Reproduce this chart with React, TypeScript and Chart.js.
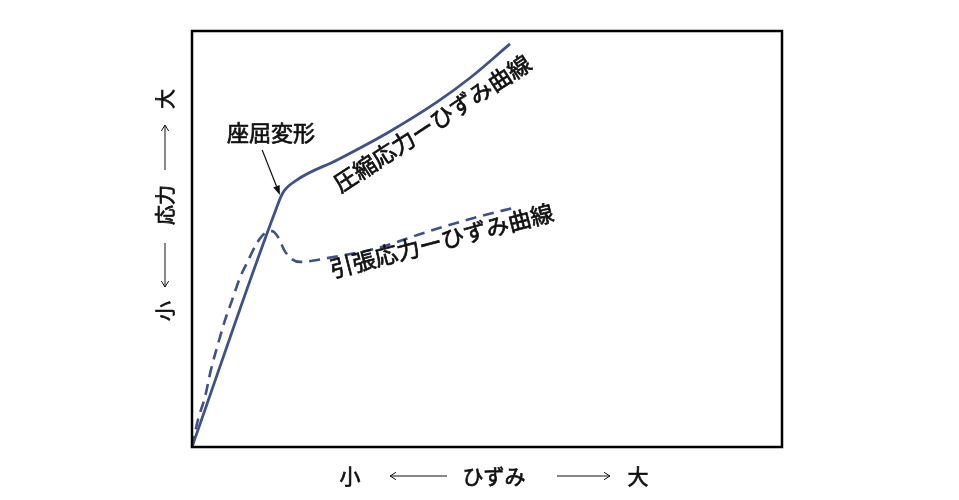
import { useEffect, useRef } from 'react';
import { Chart, ChartConfiguration, registerables } from 'chart.js';

Chart.register(...registerables);

// Compressive stress-strain curve (solid)
const compStrain = [0, 14.2, 15.4, 17.8, 24.6, 33.1, 41.5, 47.1, 53.9];
const compStress = [0, 57.0, 61.1, 64.2, 69.0, 75.5, 82.9, 88.7, 96.9];

// Tensile stress-strain curve (dashed)
const tensStrain = [0, 1.0, 2.2, 3.2, 4.7, 5.6, 6.8, 8.1, 9.3, 11.0, 12.2, 13.6, 14.7, 15.6, 16.9, 18.3, 22.9, 31.4, 39.8, 47.6, 55.1];
const tensStress = [0, 6.5, 12.0, 18.5, 26.2, 30.5, 35.3, 40.6, 44.2, 49.0, 51.2, 51.9, 50.2, 47.4, 45.2, 44.5, 45.4, 47.8, 51.7, 55.0, 57.7];

const compLabel = '圧縮応力ーひずみ曲線';
const tensLabel = '引張応力ーひずみ曲線';
const bucklingLabel = '座屈変形';
const xAxisWords = ['小', 'ひずみ', '大'];
const yAxisWords = ['小', '応力', '大'];

const LINE_COLOR = '#3f5186';
const TEXT_COLOR = '#111';
const FONT = '"Noto Sans CJK JP", "Noto Sans", sans-serif';

const toPoints = (xs: number[], ys: number[]) => xs.map((x, i) => ({ x, y: ys[i] }));

// slightly heavier text, closer to the original's weight
const heavyText = (ctx: CanvasRenderingContext2D, t: string, x: number, y: number) => {
  ctx.fillText(t, x, y);
  ctx.lineWidth = 0.7;
  ctx.strokeStyle = TEXT_COLOR;
  ctx.strokeText(t, x, y);
};

// open chevron arrow (thin)
const drawOpenArrow = (ctx: CanvasRenderingContext2D, x1: number, y1: number, x2: number, y2: number) => {
  const ang = Math.atan2(y2 - y1, x2 - x1);
  ctx.lineWidth = 1;
  ctx.beginPath();
  ctx.moveTo(x1, y1);
  ctx.lineTo(x2, y2);
  ctx.moveTo(x2 - 7 * Math.cos(ang - 0.55), y2 - 7 * Math.sin(ang - 0.55));
  ctx.lineTo(x2, y2);
  ctx.lineTo(x2 - 7 * Math.cos(ang + 0.55), y2 - 7 * Math.sin(ang + 0.55));
  ctx.stroke();
};

const annotationPlugin = {
  id: 'stressAnnotations',
  afterDraw(chart: Chart) {
    const { ctx, chartArea: a } = chart;
    const sx = chart.scales.x;
    const sy = chart.scales.y;
    ctx.save();

    // plot frame
    ctx.strokeStyle = '#000';
    ctx.lineWidth = 2.5;
    ctx.strokeRect(a.left, a.top, a.right - a.left, a.bottom - a.top);

    ctx.fillStyle = TEXT_COLOR;
    ctx.textAlign = 'center';
    ctx.textBaseline = 'middle';

    // buckling label + arrow
    ctx.font = `22px ${FONT}`;
    heavyText(ctx, bucklingLabel, sx.getPixelForValue(13.4), sy.getPixelForValue(75.5));
    const ax1 = sx.getPixelForValue(11.9), ay1 = sy.getPixelForValue(71.4);
    const ax2 = sx.getPixelForValue(14.9), ay2 = sy.getPixelForValue(60.6);
    const ang = Math.atan2(ay2 - ay1, ax2 - ax1);
    ctx.strokeStyle = TEXT_COLOR;
    ctx.lineWidth = 1.2;
    ctx.beginPath();
    ctx.moveTo(ax1, ay1);
    ctx.lineTo(ax2 - 8 * Math.cos(ang), ay2 - 8 * Math.sin(ang));
    ctx.stroke();
    ctx.beginPath();
    ctx.moveTo(ax2, ay2);
    ctx.lineTo(ax2 - 10 * Math.cos(ang - 0.35), ay2 - 10 * Math.sin(ang - 0.35));
    ctx.lineTo(ax2 - 10 * Math.cos(ang + 0.35), ay2 - 10 * Math.sin(ang + 0.35));
    ctx.closePath();
    ctx.fill();

    // curve labels
    ctx.font = `23px ${FONT}`;
    ctx.save();
    ctx.translate(sx.getPixelForValue(40.7), sy.getPixelForValue(77.8));
    ctx.rotate((-33 * Math.PI) / 180);
    heavyText(ctx, compLabel, 0, 0);
    ctx.restore();

    ctx.save();
    ctx.translate(sx.getPixelForValue(42.3), sy.getPixelForValue(49.6));
    ctx.rotate((-14.5 * Math.PI) / 180);
    heavyText(ctx, tensLabel, 0, 0);
    ctx.restore();

    // x axis title: 小 <---- ひずみ ----> 大
    const xy = a.bottom + 29;
    ctx.font = `21px ${FONT}`;
    heavyText(ctx, xAxisWords[0], a.left + 158, xy);
    heavyText(ctx, xAxisWords[1], a.left + 302, xy);
    heavyText(ctx, xAxisWords[2], a.left + 446, xy);
    drawOpenArrow(ctx, a.left + 255, xy, a.left + 198, xy);
    drawOpenArrow(ctx, a.left + 365, xy, a.left + 418, xy);

    // y axis title (rotated): 小 <---- 応力 ----> 大
    const yx = a.left - 27;
    ctx.font = `20px ${FONT}`;
    const rotText = (t: string, py: number) => {
      ctx.save();
      ctx.translate(yx, py);
      ctx.rotate(-Math.PI / 2);
      heavyText(ctx, t, 0, 0);
      ctx.restore();
    };
    rotText(yAxisWords[0], 311);
    rotText(yAxisWords[1], 205);
    rotText(yAxisWords[2], 99);
    drawOpenArrow(ctx, yx, 170, yx, 125);
    drawOpenArrow(ctx, yx, 243, yx, 287);

    ctx.restore();
  },
};

const App = () => {
  const canvasRef = useRef<HTMLCanvasElement>(null);
  const chartRef = useRef<Chart | null>(null);

  useEffect(() => {
    document.body.style.margin = '0';
    if (!canvasRef.current) return;
    if (chartRef.current) chartRef.current.destroy();

    const config: ChartConfiguration = {
      type: 'line',
      data: {
        datasets: [
          {
            label: compLabel,
            data: toPoints(compStrain, compStress),
            borderColor: LINE_COLOR,
            borderWidth: 2.8,
            pointRadius: 0,
            cubicInterpolationMode: 'monotone',
            clip: false,
          },
          {
            label: tensLabel,
            data: toPoints(tensStrain, tensStress),
            borderColor: LINE_COLOR,
            borderWidth: 2.6,
            borderDash: [11, 7],
            pointRadius: 0,
            cubicInterpolationMode: 'monotone',
            clip: false,
          },
        ],
      },
      options: {
        animation: false,
        responsive: true,
        maintainAspectRatio: false,
        layout: { padding: { left: 192, right: 177, top: 31, bottom: 53 } },
        plugins: {
          legend: { display: false },
          tooltip: { enabled: false },
        },
        scales: {
          x: { type: 'linear', min: 0, max: 100, display: false },
          y: { type: 'linear', min: 0, max: 100, display: false },
        },
      },
      plugins: [annotationPlugin],
    };

    chartRef.current = new Chart(canvasRef.current, config);

    return () => {
      if (chartRef.current) {
        chartRef.current.destroy();
        chartRef.current = null;
      }
    };
  }, []);

  return (
    <div style={{ position: 'absolute', left: 0, top: 0, width: 959, height: 500, background: '#fff' }}>
      <canvas ref={canvasRef}></canvas>
    </div>
  );
};

export default App;
